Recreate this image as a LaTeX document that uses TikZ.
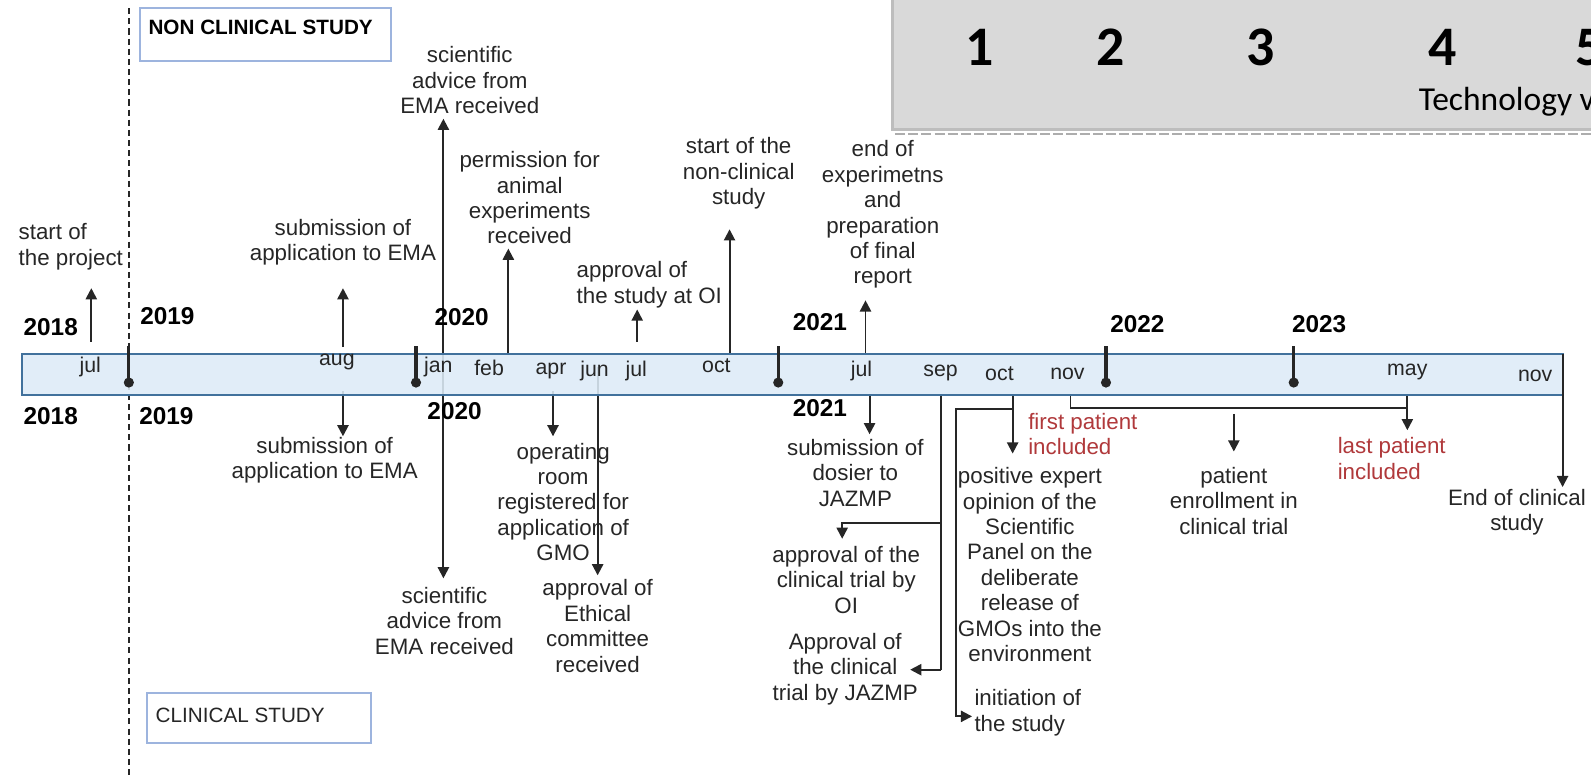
\documentclass[tikz,border=0pt]{standalone}
\usepackage{fontspec}
\setmainfont{Liberation Sans}
\newfontfamily\calibri{Carlito}
\usetikzlibrary{arrows.meta}
\definecolor{barfill}{HTML}{DDEBF7}
\definecolor{barline}{HTML}{41719C}
\definecolor{boxline}{HTML}{9DB4DE}
\definecolor{ink}{HTML}{262626}
\definecolor{redtxt}{HTML}{B0393B}
\definecolor{panel}{HTML}{D9D9D9}
\definecolor{panelline}{HTML}{BDBDBD}
\begin{document}
\begin{tikzpicture}[x=0.5pt,y=-0.5pt,
  lbl/.style={font=\fontsize{11}{12.5}\selectfont, align=center, inner sep=0pt, text=ink},
  lbll/.style={lbl, align=left, anchor=west},
  redlbl/.style={lbll, text=redtxt},
  yr/.style={font=\bfseries\fontsize{12}{14}\selectfont, inner sep=0pt, text=black},
  mon/.style={font=\fontsize{10.5}{12}\selectfont, inner sep=0pt, text=ink},
  arr/.style={draw=ink, line width=0.95pt, -{Triangle[length=5.5pt,width=5.5pt]}},
  conn/.style={draw=ink, line width=0.95pt},
  yearmark/.style={draw=black!85, line width=1.6pt},
  studybox/.style={draw=boxline, line width=1pt, fill=white},
  digit/.style={font=\calibri\bfseries\fontsize{27.5}{30}\selectfont, inner sep=0pt, text=black},
]
\useasboundingbox (0,0) rectangle (1568,767);
\clip (0,0) rectangle (1568,767);

% technology panel
\draw[fill=panel, draw=panelline, line width=1.5pt] (880,-20) rectangle (1600,128);
\draw[draw=black!32, line width=1.3pt, dash pattern=on 5pt off 1.5pt] (882,132) -- (1600,132);
\node[digit] (d1) at (965,47) {1};
\node[digit] (d2) at (1095,47) {2};
\node[digit] (d3) at (1242,47) {3};
\node[digit] (d4) at (1422,47) {4};
\node[digit] (d5) at (1567,47) {5};
\node[font=\calibri\fontsize{16.5}{18}\selectfont, inner sep=0pt, anchor=west, text=black] (tech) at (1398,100) {Technology v};

% study phase boxes
\draw[studybox] (138,8) rectangle (385,60);
\node[font=\bfseries\fontsize{10.2}{12}\selectfont, inner sep=0pt, anchor=west] (nonclin) at (146,27) {NON CLINICAL STUDY};
\draw[studybox] (145,683) rectangle (366,732);
\node[font=\fontsize{10.2}{12}\selectfont, inner sep=0pt, anchor=west, text=ink] (clin) at (153,705) {CLINICAL STUDY};

% phase divider
\draw[black!85, line width=0.8pt, dash pattern=on 3pt off 2pt] (127,8) -- (127,767);

% connector end points
\coordinate (s0) at (90,337);   \coordinate (e0) at (90,284);
\coordinate (s1) at (338,342);  \coordinate (e1) at (338,284);
\coordinate (s2) at (437,349);  \coordinate (e2) at (437,117);
\coordinate (s3) at (501,349);  \coordinate (e3) at (501,245);
\coordinate (s4) at (628,337);  \coordinate (e4) at (628,305);
\coordinate (s5) at (719,349);  \coordinate (e5) at (719,226);
\coordinate (s6) at (853,349);  \coordinate (e6) at (853,296);
\coordinate (b1) at (338,385);  \coordinate (f1) at (338,430);
\coordinate (b2) at (437,349);  \coordinate (f2) at (437,570);
\coordinate (b3) at (545,385);  \coordinate (f3) at (545,430);
\coordinate (b4) at (589,362);  \coordinate (f4) at (589,567);
\coordinate (b5) at (857,389);  \coordinate (f5) at (857,428);
\coordinate (b6) at (927,389);  \coordinate (k6) at (927,660);
\coordinate (j6) at (927,515);  \coordinate (h6) at (830,515);
\coordinate (g6) at (830,531);  \coordinate (f6) at (897,660);
\coordinate (b7) at (998,389);  \coordinate (f7) at (998,447);
\coordinate (j7) at (998,403);  \coordinate (h7) at (942,403);
\coordinate (k7) at (942,706);  \coordinate (g7) at (958,706);
\coordinate (b8) at (1055,390); \coordinate (h8) at (1055,402);
\coordinate (k8) at (1387,402); \coordinate (m8) at (1387,389);
\coordinate (f8) at (1387,424);
\coordinate (b9) at (1216,408); \coordinate (f9) at (1216,445);
\coordinate (b10) at (1540,349); \coordinate (f10) at (1540,480);

% connectors
\draw[arr] (s0) -- (e0);
\draw[arr] (s1) -- (e1);
\draw[arr] (s2) -- (e2);
\draw[arr] (s3) -- (e3);
\draw[arr] (s4) -- (e4);
\draw[arr] (s5) -- (e5);
\draw[arr] (s6) -- (e6);
\draw[arr] (b1) -- (f1);
\draw[arr] (b2) -- (f2);
\draw[arr] (b3) -- (f3);
\draw[arr] (b4) -- (f4);
\draw[arr] (b5) -- (f5);
\draw[conn] (b6) -- (k6);
\draw[arr] (k6) -- (f6);
\draw[arr] (j6) -- (h6) -- (g6);
\draw[arr] (b7) -- (f7);
\draw[arr] (j7) -- (h7) -- (k7) -- (g7);
\draw[conn] (b8) -- (h8) -- (k8);
\draw[arr] (m8) -- (f8);
\draw[arr] (b9) -- (f9);

% time bar
\draw[fill=barfill, fill opacity=0.88, draw=barline, line width=1pt] (22,349) rectangle (1540,389);
\draw[arr] (b10) -- (f10);

% year markers
\foreach \xm/\nm in {127/y19, 410/y20, 767/y21, 1090/y22, 1275/y23} {
  \coordinate (\nm top) at (\xm,341);
  \coordinate (\nm dot) at (\xm,377);
  \draw[yearmark] (\nm top) -- (\nm dot);
  \fill[black!85] (\nm dot) circle (5);
}

% months
\node[mon] (m1) at (89,362) {jul};
\node[mon] (m2) at (332,357) {aug};
\node[mon] (m3) at (432,362) {jan};
\node[mon] (m4) at (482,363) {feb};
\node[mon] (m5) at (543,366) {apr};
\node[mon] (m6) at (586,366) {jun};
\node[mon] (m7) at (627,366) {jul};
\node[mon] (m8) at (706,360) {oct};
\node[mon] (m9) at (849,366) {jul};
\node[mon] (m10) at (927,368) {sep};
\node[mon] (m11) at (985,368) {oct};
\node[mon] (m12) at (1052,368) {nov};
\node[mon] (m13) at (1387,367) {may};
\node[mon] (m14) at (1513,370) {nov};

% years
\node[yr] (ya18) at (50,322) {2018};
\node[yr] (ya19) at (165,312) {2019};
\node[yr] (ya20) at (455,313) {2020};
\node[yr] (ya21) at (808,317) {2021};
\node[yr] (ya22) at (1121,319) {2022};
\node[yr] (ya23) at (1300,319) {2023};
\node[yr] (yb18) at (50,410) {2018};
\node[yr] (yb19) at (164,410) {2019};
\node[yr] (yb20) at (448,405) {2020};
\node[yr] (yb21) at (808,402) {2021};

% events above the bar
\node[lbll] (t0) at (18,243) {start of\\the project};
\node[lbl] (t1) at (338,238.5) {submission of\\application to EMA};
\node[lbl] (t2) at (463,79) {scientific\\advice from\\EMA received};
\node[lbl] (t3) at (522,195) {permission for\\animal\\experiments\\received};
\node[lbll] (t4) at (568,280.5) {approval of\\the study at OI};
\node[lbl] (t5) at (728,171) {start of the\\non-clinical\\study};
\node[lbl] (t6) at (870,211.5) {end of\\experimetns\\and\\preparation\\of final\\report};

% events below the bar
\node[lbl] (t7) at (320,453.5) {submission of\\application to EMA};
\node[lbl] (t8) at (438,612) {scientific\\advice from\\EMA received};
\node[lbl] (t9) at (555,494.5) {operating\\room\\registered for\\application of\\GMO};
\node[lbl] (t10) at (589,617) {approval of\\Ethical\\committee\\received};
\node[lbl] (t11) at (843,466) {submission of\\dosier to\\JAZMP};
\node[lbl] (t12) at (834,571.5) {approval of the\\clinical trial by\\OI};
\node[lbl] (t13) at (833,659.5) {Approval of\\the clinical\\trial by JAZMP};
\node[lbl] (t14) at (1015,556.5) {positive expert\\opinion of the\\Scientific\\Panel on the\\deliberate\\release of\\GMOs into the\\environment};
\node[lbll] (t15) at (960,702.5) {initiation of\\the study};
\node[redlbl] (t16) at (1013,428) {first patient\\included};
\node[lbl] (t17) at (1216,493.5) {patient\\enrollment in\\clinical trial};
\node[redlbl] (t18) at (1318,452) {last patient\\included};
\node[lbl] (t19) at (1495,504.5) {End of clinical\\study};
\end{tikzpicture}
\end{document}
